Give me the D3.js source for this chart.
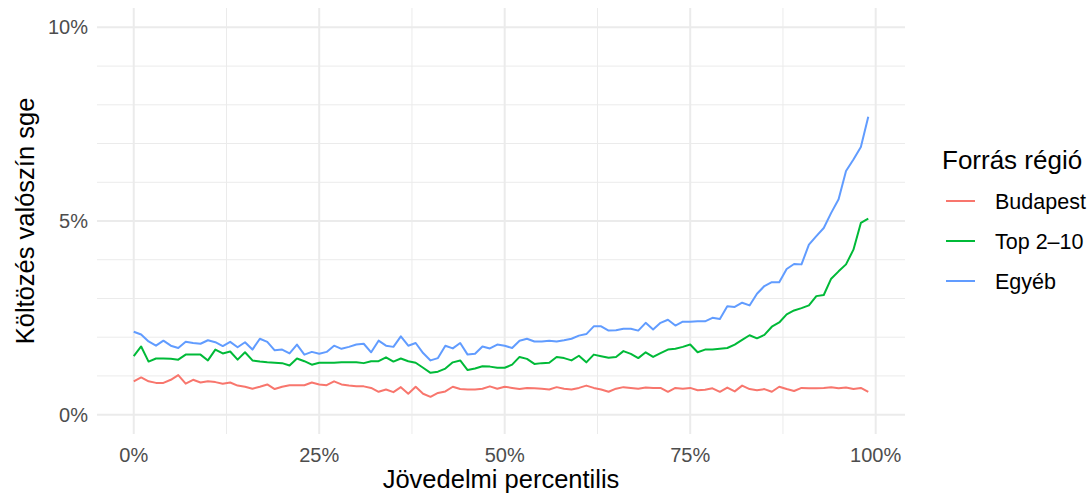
<!DOCTYPE html>
<html>
<head>
<meta charset="utf-8">
<script src="https://cdn.jsdelivr.net/npm/d3@7"></script>
<style>
  body{margin:0;background:#fff;}
  svg{display:block;font-family:"Liberation Sans",Arial,sans-serif;}
</style>
</head>
<body>
<svg id="chart" width="1091" height="495"></svg>
<script>
// percentile index 0..99
var percentiles = d3.range(0, 100);

// values in percent
var budapest = [0.86,0.96,0.86,0.82,0.82,0.90,1.02,0.80,0.90,0.83,
  0.86,0.84,0.80,0.83,0.75,0.72,0.67,0.72,0.78,0.66,
  0.72,0.76,0.76,0.76,0.83,0.78,0.76,0.86,0.78,0.75,
  0.73,0.73,0.69,0.59,0.65,0.58,0.71,0.54,0.72,0.54,
  0.46,0.56,0.60,0.72,0.66,0.65,0.65,0.67,0.73,0.67,
  0.72,0.69,0.66,0.69,0.68,0.67,0.65,0.71,0.67,0.65,
  0.69,0.75,0.69,0.65,0.59,0.67,0.71,0.69,0.67,0.70,
  0.69,0.69,0.59,0.69,0.67,0.69,0.63,0.64,0.68,0.59,
  0.70,0.60,0.75,0.66,0.63,0.66,0.59,0.72,0.66,0.61,
  0.69,0.68,0.68,0.69,0.71,0.68,0.70,0.66,0.69,0.59];

var top210 = [1.51,1.76,1.37,1.45,1.45,1.44,1.42,1.55,1.55,1.55,
  1.40,1.68,1.58,1.63,1.42,1.61,1.40,1.37,1.35,1.34,
  1.33,1.27,1.45,1.38,1.29,1.34,1.34,1.34,1.35,1.35,
  1.35,1.33,1.38,1.38,1.48,1.37,1.45,1.38,1.34,1.21,
  1.08,1.11,1.19,1.35,1.40,1.15,1.19,1.25,1.24,1.21,
  1.21,1.29,1.49,1.44,1.31,1.33,1.34,1.49,1.46,1.40,
  1.52,1.35,1.55,1.51,1.47,1.49,1.64,1.57,1.46,1.61,
  1.49,1.59,1.68,1.70,1.75,1.81,1.61,1.68,1.68,1.70,
  1.72,1.81,1.93,2.05,1.97,2.06,2.27,2.38,2.59,2.69,
  2.75,2.82,3.06,3.09,3.51,3.70,3.88,4.26,4.95,5.06];

var egyeb = [2.14,2.07,1.89,1.78,1.91,1.78,1.72,1.88,1.85,1.83,
  1.92,1.87,1.77,1.88,1.74,1.87,1.68,1.96,1.88,1.66,
  1.68,1.58,1.81,1.55,1.62,1.57,1.62,1.78,1.70,1.75,
  1.81,1.83,1.61,1.91,1.78,1.75,2.02,1.78,1.85,1.59,
  1.40,1.46,1.78,1.71,1.85,1.55,1.57,1.76,1.71,1.81,
  1.78,1.72,1.91,1.96,1.89,1.89,1.91,1.89,1.92,1.96,
  2.04,2.08,2.28,2.28,2.17,2.18,2.22,2.22,2.17,2.37,
  2.20,2.37,2.45,2.30,2.40,2.40,2.41,2.41,2.50,2.47,
  2.80,2.78,2.89,2.82,3.12,3.32,3.42,3.42,3.76,3.89,
  3.88,4.39,4.61,4.82,5.21,5.56,6.29,6.59,6.91,7.69];

var seriesNames = ["Budapest", "Top 2\u201310", "Egyéb"];
var seriesColors = ["#F8766D", "#00BA38", "#619CFF"];
var xTicks = [0, 0.25, 0.5, 0.75, 1];
var yTicks = [0, 0.05, 0.10];

var svg = d3.select("#chart");
var panel = {left: 97, right: 905, top: 8, bottom: 434};

var x = d3.scaleLinear().domain([-0.0495, 1.0395]).range([panel.left, panel.right]);
var y = d3.scaleLinear().domain([-0.005, 0.105]).range([panel.bottom, panel.top]);

// grid
var g = svg.append("g");
var xMinor = [0.125, 0.375, 0.625, 0.875];
var yMinor = [0.01,0.02,0.03,0.04,0.06,0.07,0.08,0.09];
g.selectAll(".xminor").data(xMinor).enter().append("line")
  .attr("x1", d => x(d)).attr("x2", d => x(d))
  .attr("y1", panel.top).attr("y2", panel.bottom)
  .attr("stroke", "#EBEBEB").attr("stroke-width", 1);
g.selectAll(".yminor").data(yMinor).enter().append("line")
  .attr("x1", panel.left).attr("x2", panel.right)
  .attr("y1", d => y(d)).attr("y2", d => y(d))
  .attr("stroke", "#EBEBEB").attr("stroke-width", 1);
g.selectAll(".xmajor").data(xTicks).enter().append("line")
  .attr("x1", d => x(d)).attr("x2", d => x(d))
  .attr("y1", panel.top).attr("y2", panel.bottom)
  .attr("stroke", "#EBEBEB").attr("stroke-width", 2);
g.selectAll(".ymajor").data(yTicks).enter().append("line")
  .attr("x1", panel.left).attr("x2", panel.right)
  .attr("y1", d => y(d)).attr("y2", d => y(d))
  .attr("stroke", "#EBEBEB").attr("stroke-width", 2);

// lines
var data = [budapest, top210, egyeb].map(function(vals, k){
  return {name: seriesNames[k], color: seriesColors[k],
    values: vals.map(function(v, i){ return {p: percentiles[i] / 100, v: v / 100}; })};
});
var line = d3.line().x(d => x(d.p)).y(d => y(d.v));
svg.selectAll(".series").data(data).enter().append("path")
  .attr("d", d => line(d.values))
  .attr("fill", "none")
  .attr("stroke", d => d.color)
  .attr("stroke-width", 2)
  .attr("stroke-linejoin", "round");

// axes text
var fmt = d3.format(".0%");
svg.selectAll(".xt").data(xTicks).enter().append("text")
  .attr("x", d => x(d)).attr("y", 462)
  .attr("text-anchor", "middle")
  .attr("fill", "#4D4D4D").attr("font-size", 20)
  .text(fmt);
svg.selectAll(".yt").data(yTicks).enter().append("text")
  .attr("x", 88).attr("y", d => y(d) + 7)
  .attr("text-anchor", "end")
  .attr("fill", "#4D4D4D").attr("font-size", 20)
  .text(fmt);

svg.append("text")
  .attr("x", (panel.left + panel.right) / 2).attr("y", 488)
  .attr("text-anchor", "middle").attr("font-size", 25.5).attr("fill", "#000")
  .text("Jövedelmi percentilis");
svg.append("text")
  .attr("transform", "translate(34," + ((panel.top + panel.bottom) / 2) + ") rotate(-90)")
  .attr("text-anchor", "middle").attr("font-size", 25.5).attr("fill", "#000")
  .text("Költözés valószín sge");

// legend
var lg = svg.append("g").attr("transform", "translate(942,0)");
lg.append("text").attr("x", 0).attr("y", 169).attr("font-size", 26).attr("fill", "#000")
  .text("Forrás régió");
var items = lg.selectAll(".li").data(data).enter().append("g")
  .attr("transform", (d, i) => "translate(0," + (201 + i * 40) + ")");
items.append("line").attr("x1", 4).attr("x2", 33).attr("y1", 0).attr("y2", 0)
  .attr("stroke", d => d.color).attr("stroke-width", 2);
items.append("text").attr("x", 53).attr("y", 7.5).attr("font-size", 21.5).attr("fill", "#000")
  .text(d => d.name);
</script>
</body>
</html>
